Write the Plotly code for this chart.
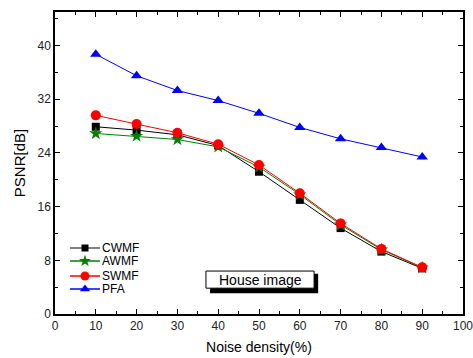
import plotly.graph_objects as go

noise = [10, 20, 30, 40, 50, 60, 70, 80, 90]
cwmf = [27.9, 27.4, 26.7, 25.1, 21.2, 17.0, 12.8, 9.3, 6.8]
awmf = [26.9, 26.5, 26.0, 24.9, 21.9, 17.8, 13.3, 9.6, 6.9]
swmf = [29.6, 28.3, 27.0, 25.3, 22.2, 18.0, 13.5, 9.7, 6.95]
pfa = [38.7, 35.5, 33.3, 31.8, 29.9, 27.8, 26.1, 24.8, 23.4]
names = ["CWMF", "AWMF", "SWMF", "PFA"]

x_ticks = list(range(0, 101, 10))
y_ticks = [0, 8, 16, 24, 32, 40]

FONT = "Liberation Sans, Arial, sans-serif"

styles = [
    dict(color="#000000", legline="#555555", symbol="square", size=8, lsize=7),
    dict(color="#008000", legline="#008000", symbol="star", size=10, lsize=9),
    dict(color="#ff0000", legline="#ff0000", symbol="circle", size=10, lsize=9),
    dict(color="#0000ff", legline="#0000ff", symbol="triangle-up", size=10, lsize=9),
]

fig = go.Figure()
for name, vals, st in zip(names, [cwmf, awmf, swmf, pfa], styles):
    fig.add_trace(go.Scatter(
        x=noise, y=vals, name=name, mode="lines+markers", showlegend=False,
        line=dict(color=st["color"], width=1),
        marker=dict(color=st["color"], symbol=st["symbol"], size=st["size"], line=dict(width=0)),
    ))

# Hand-drawn legend on a pixel-scaled overlay axis (plot area is 408 x 302 px)
LEG_X0, LEG_X1, LEG_XM, LEG_TX = 15, 45, 30, 46
LEG_Y = [66, 53, 38, 25]
for name, st, ly in zip(names, styles, LEG_Y):
    fig.add_trace(go.Scatter(
        x=[LEG_X0, LEG_X1], y=[ly, ly], xaxis="x2", yaxis="y2", mode="lines",
        line=dict(color=st["legline"], width=1.5), showlegend=False, hoverinfo="skip",
    ))
    fig.add_trace(go.Scatter(
        x=[LEG_XM], y=[ly], xaxis="x2", yaxis="y2", mode="markers",
        marker=dict(color=st["color"], symbol=st["symbol"], size=st["lsize"], line=dict(width=0)),
        showlegend=False, hoverinfo="skip",
    ))
    fig.add_annotation(x=LEG_TX, y=ly, xref="x2", yref="y2", text=name, showarrow=False,
                       xanchor="left", yanchor="middle", borderpad=0,
                       font=dict(family=FONT, size=12, color="black"))

axis_common = dict(
    showline=True, linecolor="black", linewidth=1.5, mirror="ticks",
    ticks="inside", ticklen=5, tickwidth=1, tickcolor="black",
    showgrid=False, zeroline=False, automargin=False,
    ticklabeloverflow="allow",
    tickfont=dict(family=FONT, size=12, color="#222222"),
)

fig.update_layout(
    xaxis=dict(
        range=[0, 100], tickvals=x_ticks,
        minor=dict(ticks="inside", ticklen=3, dtick=5, tick0=0, tickcolor="black", showgrid=False),
        title=dict(text="Noise density(%)", font=dict(family=FONT, size=14, color="black"), standoff=10),
        **axis_common,
    ),
    yaxis=dict(
        range=[0, 45], tickvals=y_ticks,
        minor=dict(ticks="inside", ticklen=3, dtick=4, tick0=0, tickcolor="black", showgrid=False),
        title=dict(text="PSNR[dB]", font=dict(family=FONT, size=15, color="black"), standoff=8),
        **axis_common,
    ),
    xaxis2=dict(range=[0, 408], overlaying="x", visible=False, fixedrange=True),
    yaxis2=dict(range=[0, 302], overlaying="y", visible=False, fixedrange=True),
)

# "House image" label box with drop shadow
fig.add_shape(type="rect", xref="x", yref="y", x0=38.0, x1=64.5, y0=3.1, y1=6.0,
              fillcolor="black", line=dict(width=0))
fig.add_shape(type="rect", xref="x", yref="y", x0=37.0, x1=63.5, y0=3.85, y1=6.4,
              fillcolor="white", line=dict(color="black", width=1))
fig.add_annotation(x=50.25, y=5.12, xref="x", yref="y", text="House image",
                   showarrow=False, font=dict(family=FONT, size=14, color="black"))

# Figure slightly wider than the window so the "100" label is not clipped;
# the page margin is removed and overflow hidden so no scrollbar appears.
fig.update_layout(
    width=482, height=358,
    margin=dict(l=55, r=19, t=12, b=44),
    paper_bgcolor="white", plot_bgcolor="white",
    font=dict(family=FONT, size=12, color="black"),
    showlegend=False,
)

fig.write_html(
    "out.html",
    config={"displayModeBar": False},
    post_script="document.documentElement.style.overflow='hidden';"
                "document.body.style.margin='0';document.body.style.overflow='hidden';",
)
